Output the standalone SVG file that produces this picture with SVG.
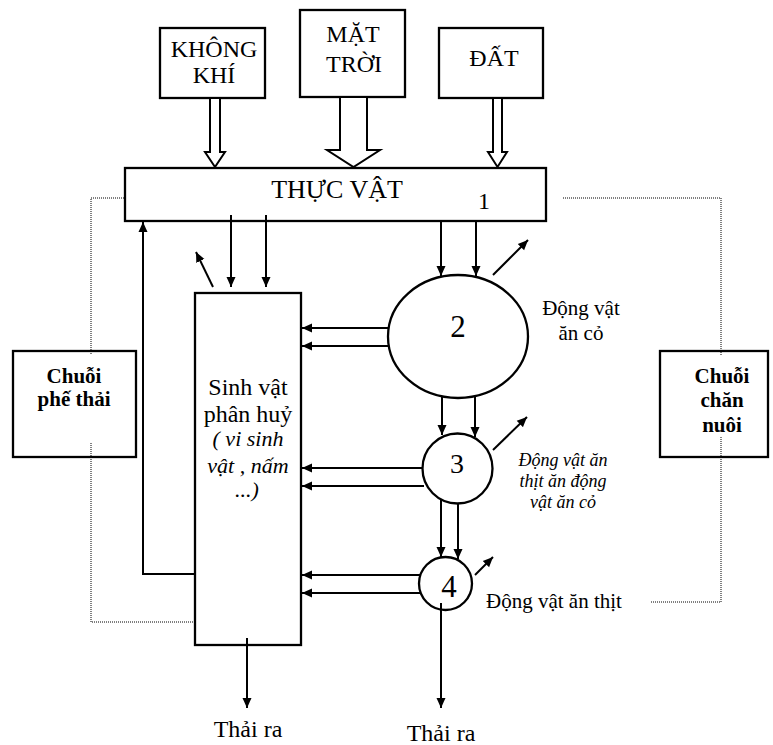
<svg xmlns="http://www.w3.org/2000/svg" width="773" height="745" viewBox="0 0 773 745">
<style>
text{font-family:"Liberation Serif","Times New Roman",serif;fill:#000;text-anchor:middle}
.box{fill:#fff;stroke:#000;stroke-width:2.3}
.ln{fill:none;stroke:#000;stroke-width:2}
.dot{fill:none;stroke:#000;stroke-width:1;stroke-dasharray:1 1}
.hol{fill:#fff;stroke:#000;stroke-width:2;stroke-linejoin:miter}
.t24{font-size:24px}
.it{font-style:italic}
.b{font-weight:bold;font-size:21px}
</style>
<defs>
<marker id="ah" markerUnits="userSpaceOnUse" markerWidth="11" markerHeight="10" refX="10" refY="5" orient="auto">
<path d="M0,0.5 L10,5 L0,9.5 z" fill="#000"/>
</marker>
</defs>
<rect width="773" height="745" fill="#fff"/>

<g id="khongkhi">
<rect class="box" x="160" y="28" width="105" height="70"/>
<text class="t24" x="214" y="57">KHÔNG</text>
<text class="t24" x="214" y="83">KHÍ</text>
</g>
<g id="mattroi">
<rect class="box" x="300" y="10" width="105" height="87"/>
<text class="t24" x="353" y="42">MẶT</text>
<text class="t24" x="354" y="72">TRỜI</text>
</g>
<g id="dat">
<rect class="box" x="439" y="28" width="104" height="70"/>
<text class="t24" x="494" y="66">ĐẤT</text>
</g>
<g id="thucvat">
<rect class="box" x="125" y="168" width="421" height="53"/>
<text x="337" y="198" font-size="26">THỰC VẬT</text>
<text class="t24" x="484" y="209">1</text>
</g>
<g id="phanhuy">
<rect class="box" x="195" y="293" width="106" height="352"/>
<text class="t24" x="248" y="395">Sinh vật</text>
<text class="t24" x="248" y="422">phân huỷ</text>
<text class="it" font-size="22" x="248" y="446">( vi sinh</text>
<text class="it" font-size="22" x="248" y="473">vật , nấm</text>
<text class="it" font-size="22" x="247" y="497">...)</text>
</g>
<g id="n2">
<ellipse class="box" cx="458" cy="336.5" rx="70" ry="61.5"/>
<text x="458" y="337" font-size="31">2</text>
</g>
<g id="n3">
<circle class="box" cx="457.5" cy="468.5" r="35"/>
<text x="457" y="473" font-size="28">3</text>
</g>
<g id="n4">
<circle class="box" cx="445.5" cy="583.5" r="26.5"/>
<text x="449" y="597" font-size="31">4</text>
</g>
<g id="chuoiphethai">
<rect class="box" x="13" y="351" width="123" height="106"/>
<text class="b" x="74" y="383">Chuỗi</text>
<text class="b" x="74" y="406">phế thải</text>
</g>
<g id="chuoichannuoi">
<rect class="box" x="660" y="351" width="108" height="106"/>
<text class="b" x="722" y="383">Chuỗi</text>
<text class="b" x="722" y="407">chăn</text>
<text class="b" x="722" y="432">nuôi</text>
</g>
<g id="labels">
<text x="581" y="315" font-size="21">Động vật</text>
<text x="581" y="340" font-size="21">ăn cỏ</text>
<text class="it" x="563" y="466" font-size="18">Động vật ăn</text>
<text class="it" x="563" y="487" font-size="18">thịt ăn động</text>
<text class="it" x="563" y="508" font-size="18">vật ăn cỏ</text>
<text x="554" y="608" font-size="21">Động vật ăn thịt</text>
<text class="t24" x="248" y="737">Thải ra</text>
<text class="t24" x="441" y="741">Thải ra</text>
</g>

<g id="connectors">
<polygon class="hol" points="210,98 210,152 205,152 215,167 225,152 220,152 220,98"/>
<polygon class="hol" points="340,97 340,150 327,150 353.5,167 380,150 367,150 367,97"/>
<polygon class="hol" points="493,98 493,152 488,152 497.5,167 507,152 502,152 502,98"/>

<line class="ln" x1="231" y1="215" x2="231" y2="287" marker-end="url(#ah)"/>
<line class="ln" x1="266" y1="215" x2="266" y2="287" marker-end="url(#ah)"/>
<line class="ln" x1="213" y1="287" x2="196" y2="252" marker-end="url(#ah)"/>
<line class="ln" x1="441" y1="222" x2="441" y2="276" marker-end="url(#ah)"/>
<line class="ln" x1="476" y1="222" x2="476" y2="276" marker-end="url(#ah)"/>
<line class="ln" x1="493" y1="275" x2="528" y2="240" marker-end="url(#ah)"/>

<polyline class="ln" points="195,574 143,574 143,222" marker-end="url(#ah)"/>

<line class="ln" x1="389" y1="328" x2="302" y2="328" marker-end="url(#ah)"/>
<line class="ln" x1="389" y1="346" x2="302" y2="346" marker-end="url(#ah)"/>
<line class="ln" x1="442" y1="396" x2="442" y2="435" marker-end="url(#ah)"/>
<line class="ln" x1="475" y1="396" x2="475" y2="437" marker-end="url(#ah)"/>

<line class="ln" x1="423" y1="468" x2="302" y2="468" marker-end="url(#ah)"/>
<line class="ln" x1="424" y1="486" x2="302" y2="486" marker-end="url(#ah)"/>
<line class="ln" x1="493" y1="450" x2="527" y2="417" marker-end="url(#ah)"/>
<line class="ln" x1="441" y1="500" x2="441" y2="557" marker-end="url(#ah)"/>
<line class="ln" x1="458" y1="503" x2="458" y2="559" marker-end="url(#ah)"/>

<line class="ln" x1="420" y1="575" x2="302" y2="575" marker-end="url(#ah)"/>
<line class="ln" x1="420" y1="593" x2="302" y2="593" marker-end="url(#ah)"/>
<line class="ln" x1="475" y1="575" x2="493" y2="557" marker-end="url(#ah)"/>
<line class="ln" x1="441" y1="603" x2="441" y2="708" marker-end="url(#ah)"/>
<line class="ln" x1="247" y1="638" x2="247" y2="708" marker-end="url(#ah)"/>

<polyline class="dot" points="124,198 91,198 91,355"/>
<polyline class="dot" points="91,443 91,622 195,622"/>
<polyline class="dot" points="563,198 721,198 721,355"/>
<polyline class="dot" points="721,437 721,602 650,602"/>
</g>
</svg>
